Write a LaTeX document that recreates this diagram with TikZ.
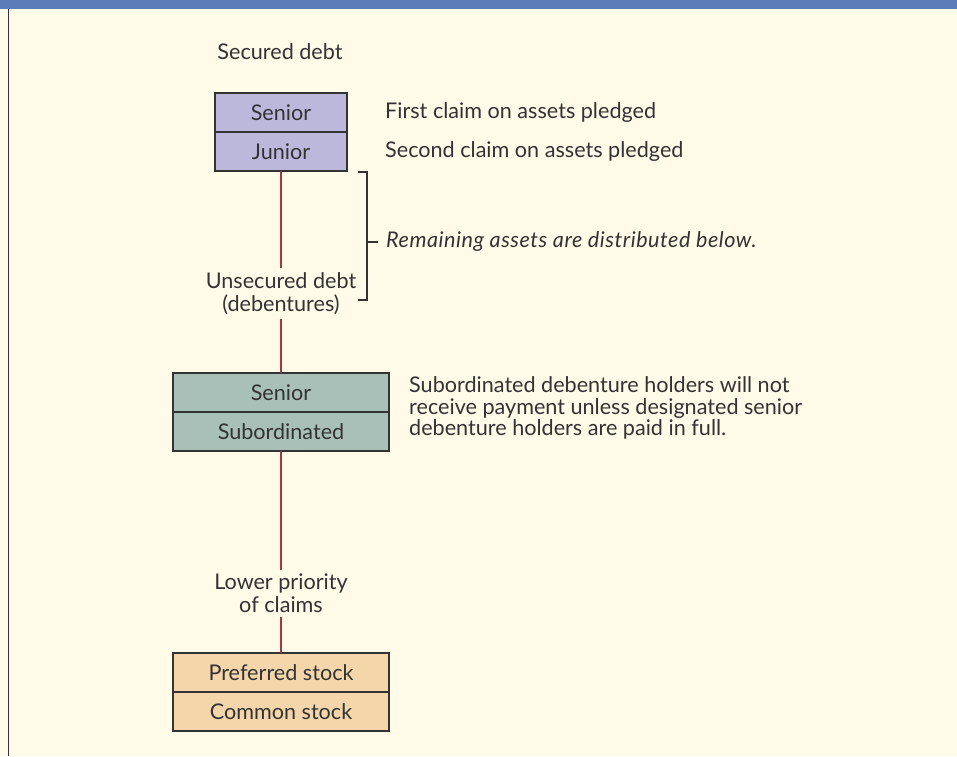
\documentclass[tikz,border=0pt]{standalone}
\usepackage{fontspec}
\setmainfont{Lato}
\usetikzlibrary{positioning}
\definecolor{cream}{HTML}{FFFBE8}
\definecolor{headblue}{HTML}{5B7BB8}
\definecolor{lavender}{HTML}{BCB8DC}
\definecolor{sage}{HTML}{A8C0B8}
\definecolor{peach}{HTML}{F5D6AA}
\definecolor{rule}{HTML}{A3354A}
\definecolor{ink}{HTML}{333333}

\begin{document}
\begin{tikzpicture}[x=1pt, y=-1pt,
  tier/.style={rectangle, draw=ink, line width=1.2pt, outer sep=0pt, inner sep=0pt,
    minimum height=39pt, text=ink, font=\fontsize{21.6}{23}\selectfont},
  note/.style={anchor=west, align=left, inner sep=0pt, text=ink,
    font=\fontsize{21.6}{21.5}\selectfont},
  claim/.style={align=center, inner sep=4pt, text=ink, font=\fontsize{21.6}{23}\selectfont},
  link/.style={draw=rule, line width=1.3pt},
]
  \useasboundingbox (0,0) rectangle (957,756);
  \fill[cream] (0,0) rectangle (957,756);
  \fill[headblue] (0,0) rectangle (957,9);
  \draw[line width=1.5pt, ink] (8.5,9) -- (8.5,756);

  % secured debt
  \node[claim] (secured) at (280,52) {Secured debt};
  \node[tier, fill=lavender, minimum width=132pt] (sec1) at (281,112.5) {Senior};
  \node[tier, fill=lavender, minimum width=132pt, below=0pt of sec1] (sec2) {Junior};
  \node[note] (first) at (385,113) {First claim on assets pledged};
  \node[note] (second) at (385,152) {Second claim on assets pledged};

  % unsecured debt
  \node[claim] (unsec) at (281,293.5) {Unsecured debt\\(debentures)};
  \draw[line width=1.2pt, ink] (358,172) -- (367,172) -- (367,300) -- (358,300);
  \coordinate (brace) at (367,242);
  \draw[line width=1.2pt, ink] (brace) -- ++(11,0);
  \node[note, font=\fontsize{21.6}{23}\selectfont\itshape\addfontfeatures{LetterSpace=2.5}]
    (remain) at (386,242) {Remaining assets are distributed below.};

  \node[tier, fill=sage, minimum width=216pt] (deb1) at (281,392.5) {Senior};
  \node[tier, fill=sage, minimum width=216pt, below=0pt of deb1] (deb2) {Subordinated};
  \node[note] (subnote) at (409,408)
    {Subordinated debenture holders will not\\receive payment unless designated senior\\debenture holders are paid in full.};

  % stock
  \node[claim] (lower) at (281,593.5) {Lower priority\\of claims};
  \node[tier, fill=peach, minimum width=216pt] (stk1) at (281,672.5) {Preferred stock};
  \node[tier, fill=peach, minimum width=216pt, below=0pt of stk1] (stk2) {Common stock};

  \draw[link] (sec2.south) -- (unsec.north);
  \draw[link] (unsec.south) -- (deb1.north);
  \draw[link] (deb2.south) -- (lower.north);
  \draw[link] (lower.south) -- (stk1.north);
\end{tikzpicture}
\end{document}
